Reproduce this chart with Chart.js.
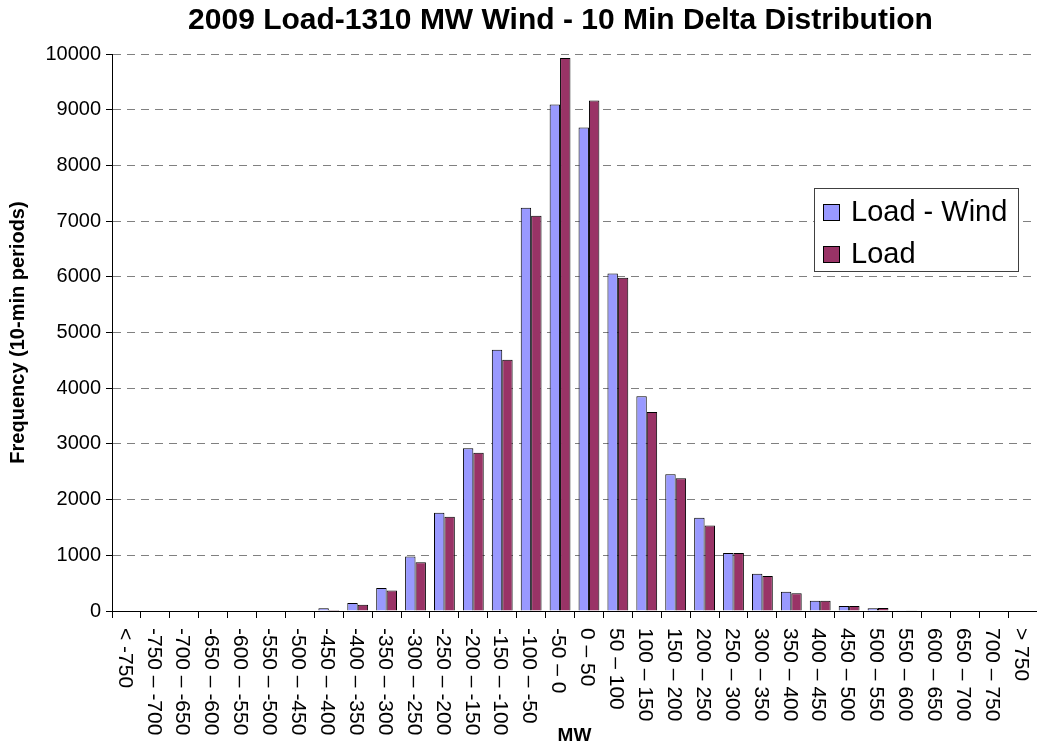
<!DOCTYPE html>
<html>
<head>
<meta charset="utf-8">
<script src="https://cdn.jsdelivr.net/npm/chart.js@4.4.1/dist/chart.umd.min.js"></script>
<style>
    html, body { margin: 0; padding: 0; background: #fff; }
    #chartBox { width: 1037px; height: 748px; }
</style>
</head>
<body>
<div id="chartBox"><canvas id="deltaChart"></canvas></div>
<script>
var chartTitle = '2009 Load-1310 MW Wind - 10 Min Delta Distribution';
var binLabels = [
    '< -750', '-750 – -700', '-700 – -650', '-650 – -600', '-600 – -550', '-550 – -500',
    '-500 – -450', '-450 – -400', '-400 – -350', '-350 – -300', '-300 – -250', '-250 – -200',
    '-200 – -150', '-150 – -100', '-100 – -50', '-50 – 0', '0 – 50', '50 – 100',
    '100 – 150', '150 – 200', '200 – 250', '250 – 300', '300 – 350', '350 – 400',
    '400 – 450', '450 – 500', '500 – 550', '550 – 600', '600 – 650', '650 – 700',
    '700 – 750', '> 750'
];
var loadWind = [0, 0, 0, 0, 0, 0, 15, 48, 143, 411, 978, 1762, 2922, 4690, 7240, 9095,
    8680, 6060, 3855, 2455, 1672, 1040, 671, 345, 184, 89, 50, 14, 0, 0, 0, 0];
var loadOnly = [0, 0, 0, 0, 0, 0, 10, 20, 112, 368, 876, 1690, 2840, 4510, 7095, 9930,
    9165, 5985, 3572, 2383, 1535, 1040, 630, 320, 184, 89, 52, 12, 0, 0, 0, 0];
var seriesNames = ['Load - Wind', 'Load'];
var seriesColors = ['#9999FF', '#993366'];

var fontFamily = '"Liberation Sans", Arial, sans-serif';

// titulo, etiquetas giradas y leyenda dentro del area
var drawExtras = {
    id: 'drawExtras',
    afterDraw: function(chart) {
        var ctx = chart.ctx;
        var area = chart.chartArea;
        var xScale = chart.scales.x;
        ctx.save();
        ctx.fillStyle = '#000';
        ctx.font = 'bold 30px ' + fontFamily;
        ctx.textAlign = 'center';
        ctx.textBaseline = 'middle';
        ctx.fillText(chartTitle, (area.left + area.right) / 2 - 14, 21);

        ctx.font = '21px ' + fontFamily;
        ctx.textAlign = 'left';
        binLabels.forEach(function(lbl, i) {
            var x = xScale.getPixelForValue(i);
            ctx.save();
            ctx.translate(x - 2, area.bottom + 17);
            ctx.rotate(Math.PI / 2);
            ctx.fillText(lbl, 0, 0);
            ctx.restore();
        });

        var bx = area.right - 223;
        var by = area.top + 134;
        ctx.fillStyle = '#fff';
        ctx.fillRect(bx, by, 204, 83);
        ctx.strokeStyle = '#404040';
        ctx.lineWidth = 1;
        ctx.strokeRect(bx + 0.5, by + 0.5, 204, 83);
        ctx.font = '29px ' + fontFamily;
        ctx.textAlign = 'left';
        chart.data.datasets.forEach(function(ds, i) {
            var sy = by + 16 + i * 42;
            ctx.fillStyle = ds.backgroundColor;
            ctx.fillRect(bx + 9, sy, 17, 17);
            ctx.strokeStyle = '#000';
            ctx.strokeRect(bx + 9.5, sy + 0.5, 16, 16);
            ctx.fillStyle = '#000';
            ctx.fillText(ds.label, bx + 37, sy + 9);
        });
        ctx.restore();
    }
};

var graph = document.querySelector('#deltaChart');
new Chart(graph, {
    type: 'bar',
    data: {
        labels: binLabels,
        datasets: [
            {
                label: seriesNames[0],
                data: loadWind,
                backgroundColor: seriesColors[0],
                borderColor: '#000',
                borderWidth: 1,
                borderSkipped: 'start',
                categoryPercentage: 0.72,
                barPercentage: 1.0
            },
            {
                label: seriesNames[1],
                data: loadOnly,
                backgroundColor: seriesColors[1],
                borderColor: '#000',
                borderWidth: 1,
                borderSkipped: 'start',
                categoryPercentage: 0.72,
                barPercentage: 1.0
            }
        ]
    },
    options: {
        responsive: true,
        maintainAspectRatio: false,
        animation: false,
        layout: { padding: { top: 54, right: 0, left: 0, bottom: 0 } },
        scales: {
            x: {
                offset: true,
                grid: { display: true, drawOnChartArea: false, drawTicks: true, tickLength: 7, tickColor: '#000' },
                border: { color: '#000', width: 1 },
                ticks: { display: false },
                title: {
                    display: true,
                    text: 'MW',
                    color: '#000',
                    font: { family: fontFamily, size: 19, weight: 'bold' },
                    padding: { top: 0, bottom: 1 }
                },
                afterFit: function(scale) { scale.height = 137; }
            },
            y: {
                min: 0,
                max: 10000,
                ticks: {
                    stepSize: 1000,
                    color: '#000',
                    padding: 5,
                    font: { family: fontFamily, size: 20 },
                    callback: function(v) { return String(v); }
                },
                grid: {
                    color: function(c) { return c.tick && c.tick.value === 0 ? 'rgba(0,0,0,0)' : '#808080'; },
                    tickColor: '#000',
                    tickLength: 6,
                    tickBorderDash: []
                },
                border: { color: '#000', width: 1, dash: [8, 6] },
                title: {
                    display: true,
                    text: 'Frequency (10-min periods)',
                    color: '#000',
                    font: { family: fontFamily, size: 20, weight: 'bold' },
                    padding: { top: 6, bottom: 0 }
                },
                afterFit: function(scale) { scale.width = 112; }
            }
        },
        plugins: {
            legend: { display: false },
            title: { display: false },
            tooltip: { enabled: false }
        }
    },
    plugins: [drawExtras]
});
</script>
</body>
</html>
